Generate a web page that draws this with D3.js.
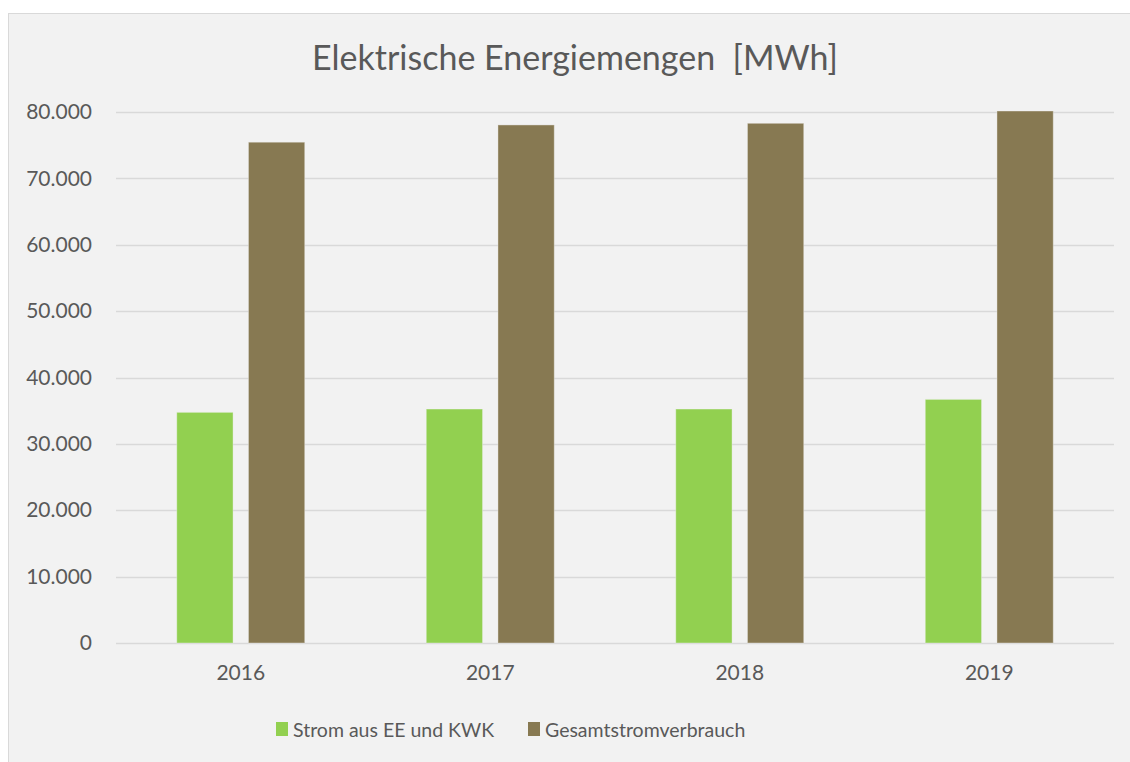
<!DOCTYPE html>
<html>
<head>
<meta charset="utf-8">
<script src="https://cdn.jsdelivr.net/npm/d3@7"></script>
<style>
  body { margin: 0; background: #fff; }
  text { font-family: Lato, "Open Sans", sans-serif; fill: #595959; }
</style>
</head>
<body>
<div id="chart"></div>
<script>
var years = ["2016", "2017", "2018", "2019"];
var seriesNames = ["Strom aus EE und KWK", "Gesamtstromverbrauch"];
var stromEE = [34750, 35250, 35250, 36700];
var gesamt = [75450, 78050, 78300, 80150];
var yTicks = [0, 10000, 20000, 30000, 40000, 50000, 60000, 70000, 80000];
var colors = ["#92d050", "#877952"];

var svgWidth = 1130;
var svgHeight = 762;
var margin = { top: 112, right: 16, bottom: 119, left: 116 };
var chartWidth = 1114 - margin.left;
var chartHeight = 643 - margin.top;

var svg = d3.select("#chart").append("svg")
  .attr("width", svgWidth)
  .attr("height", svgHeight);

// chart area background + border
svg.append("rect")
  .attr("x", 8.5).attr("y", 13.5)
  .attr("width", 1125).attr("height", 760)
  .attr("fill", "#f2f2f2")
  .attr("stroke", "#d9d9d9")
  .attr("stroke-width", 1);

svg.append("text")
  .attr("x", 575)
  .attr("y", 70)
  .attr("text-anchor", "middle")
  .style("font-size", "34px")
  .style("white-space", "pre")
  .text("Elektrische Energiemengen  [MWh]");

var g = svg.append("g")
  .attr("transform", `translate(${margin.left},${margin.top})`);

var yScale = d3.scaleLinear().domain([0, 80000]).range([chartHeight, 0]);

var x0 = d3.scaleBand().domain(years).range([0, chartWidth])
  .paddingInner(0.487).paddingOuter(0.2435);
var x1 = d3.scaleBand().domain(seriesNames).range([0, x0.bandwidth()])
  .paddingInner(0.215).paddingOuter(0);

var fmt = function(d) { return d3.format(",")(d).replace(/,/g, "."); };

// gridlines
g.append("g").selectAll("line")
  .data(yTicks)
  .enter().append("line")
  .attr("x1", 0).attr("x2", chartWidth)
  .attr("y1", d => Math.round(yScale(d)) + 0.5)
  .attr("y2", d => Math.round(yScale(d)) + 0.5)
  .attr("stroke", "#d9d9d9")
  .attr("stroke-width", 1.3);

var yAxis = d3.axisLeft(yScale).tickValues(yTicks).tickFormat(fmt).tickSize(0).tickPadding(24);
g.append("g").call(yAxis)
  .call(a => a.select(".domain").remove())
  .selectAll("text")
  .style("font-size", "21px")
  .style("font-family", "Lato, sans-serif")
  .attr("fill", "#595959");

var xAxis = d3.axisBottom(x0).tickSize(0).tickPadding(22);
g.append("g").attr("transform", `translate(0,${chartHeight})`).call(xAxis)
  .call(a => a.select(".domain").remove())
  .selectAll("text")
  .style("font-size", "21px")
  .style("font-family", "Lato, sans-serif")
  .attr("fill", "#595959");

var rows = years.map(function(y, i) {
  return { year: y, values: [
    { name: seriesNames[0], value: stromEE[i] },
    { name: seriesNames[1], value: gesamt[i] }
  ] };
});

var groups = g.selectAll(".yearGroup")
  .data(rows)
  .enter().append("g")
  .attr("class", "yearGroup")
  .attr("transform", d => `translate(${x0(d.year)},0)`);

groups.selectAll("rect")
  .data(d => d.values)
  .enter().append("rect")
  .attr("x", d => x1(d.name))
  .attr("y", d => yScale(d.value))
  .attr("width", x1.bandwidth())
  .attr("height", d => chartHeight - yScale(d.value))
  .attr("fill", (d, i) => colors[i])
  .attr("stroke", "#f2f2f2")
  .attr("stroke-opacity", 0.4)
  .attr("stroke-width", 1);

// legend
var legendX = [276, 528];
var legend = svg.selectAll(".legendItem")
  .data(seriesNames)
  .enter().append("g")
  .attr("class", "legendItem")
  .attr("transform", (d, i) => `translate(${legendX[i]},722)`);

legend.append("rect")
  .attr("width", 12).attr("height", 14)
  .attr("fill", (d, i) => colors[i]);

legend.append("text")
  .attr("x", 17).attr("y", 15)
  .style("font-size", "19.5px")
  .text(d => d);
</script>
</body>
</html>
